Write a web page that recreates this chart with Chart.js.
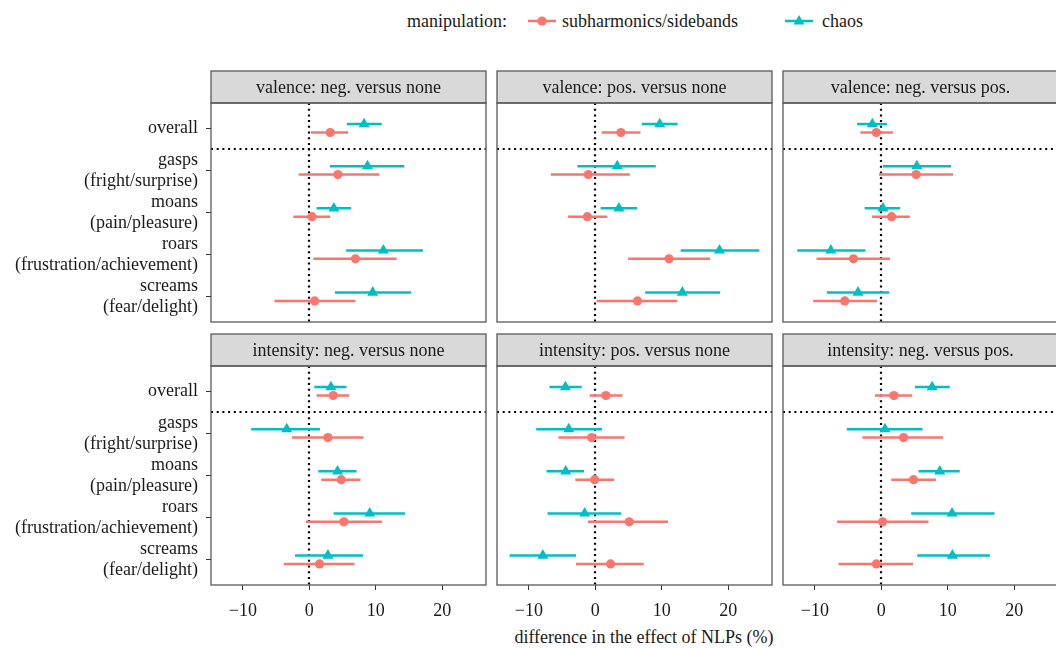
<!DOCTYPE html>
<html>
<head>
<meta charset="utf-8">
<script src="https://cdn.jsdelivr.net/npm/chart.js@4.4.0/dist/chart.umd.min.js"></script>
<style>
  body { margin: 0; width: 1056px; height: 648px; overflow: hidden; background: #fff; position: relative; font-family: "Liberation Serif", serif; color: #1a1a1a; }
  canvas { position: absolute; left: 0; top: 0; }
  .legend { position: absolute; top: 10px; left: 407px; height: 22px; line-height: 22px; font-size: 18px; white-space: nowrap; }
  .legend span, .legend svg { position: absolute; top: 0; }
  .xtitle { position: absolute; left: 444px; width: 400px; top: 627px; text-align: center; font-size: 18px; line-height: 20px; }
</style>
</head>
<body>
<div class="legend">
  <span style="left:0">manipulation:</span>
  <svg style="left:120px" width="30" height="22"><line x1="1" y1="11" x2="29" y2="11" stroke="#F8766D" stroke-width="2.5"/><circle cx="15" cy="11" r="4.6" fill="#F8766D"/></svg>
  <span style="left:155px">subharmonics/sidebands</span>
  <svg style="left:377px" width="30" height="22"><line x1="1" y1="11" x2="29" y2="11" stroke="#00BFC4" stroke-width="2.5"/><polygon points="15,5 20.5,14.5 9.5,14.5" fill="#00BFC4"/></svg>
  <span style="left:415px">chaos</span>
</div>
<div class="xtitle">difference in the effect of NLPs (%)</div>

<script>
var categories = ["overall", "gasps", "moans", "roars", "screams"];
var subLabels = ["", "(fright/surprise)", "(pain/pleasure)", "(frustration/achievement)", "(fear/delight)"];
var panelTitles = ["valence: neg. versus none", "valence: pos. versus none", "valence: neg. versus pos.",
                   "intensity: neg. versus none", "intensity: pos. versus none", "intensity: neg. versus pos."];
var xTicks = [-10, 0, 10, 20];

// subharmonics/sidebands, one row per panel, values in category order
var subEst = [
  [3.15, 4.3, 0.4, 6.95, 0.8],
  [3.85, -1.05, -1.2, 11.1, 6.35],
  [-0.75, 5.25, 1.55, -4.2, -5.5],
  [3.6, 2.8, 4.8, 5.2, 1.55],
  [1.6, -0.55, -0.1, 5.1, 2.3],
  [1.9, 3.35, 4.85, 0.2, -0.75]
];
var subLo = [
  [0.25, -1.6, -2.4, 0.6, -5.25],
  [0.95, -6.7, -4.1, 4.95, 0.2],
  [-3.15, -0.35, -1.4, -9.75, -10.25],
  [1.1, -2.6, 1.8, -0.5, -3.85],
  [-0.85, -5.55, -3.0, -1.1, -2.9],
  [-0.95, -2.85, 1.5, -6.65, -6.45]
];
var subHi = [
  [5.85, 10.55, 3.15, 13.15, 6.95],
  [6.8, 5.2, 1.8, 17.3, 12.35],
  [1.75, 10.8, 4.3, 1.3, -0.65],
  [6.0, 8.15, 7.7, 10.95, 6.8],
  [4.1, 4.4, 2.85, 10.95, 7.3],
  [4.65, 9.3, 8.25, 7.1, 4.8]
];

// chaos
var chaosEst = [
  [8.25, 8.75, 3.7, 11.15, 9.55],
  [9.7, 3.3, 3.55, 18.7, 13.1],
  [-1.35, 5.35, 0.25, -7.6, -3.5],
  [3.25, -3.4, 4.25, 9.1, 2.8],
  [-4.5, -4.0, -4.45, -1.6, -7.9],
  [7.65, 0.55, 8.8, 10.65, 10.7]
];
var chaosLo = [
  [5.65, 3.1, 1.1, 5.55, 3.85],
  [7.0, -2.7, 0.8, 12.85, 7.5],
  [-3.65, 0.25, -2.5, -12.65, -8.2],
  [0.75, -8.75, 1.35, 3.65, -2.15],
  [-6.9, -8.9, -7.35, -7.2, -12.9],
  [5.05, -5.2, 5.6, 4.5, 5.4]
];
var chaosHi = [
  [10.9, 14.3, 6.3, 17.1, 15.35],
  [12.4, 9.1, 6.3, 24.7, 18.8],
  [0.85, 10.5, 2.85, -2.4, 1.2],
  [5.6, 1.6, 7.1, 14.4, 8.1],
  [-2.05, 1.0, -1.7, 3.9, -2.9],
  [10.3, 6.2, 11.8, 17.05, 16.35]
];

var RED = "#F8766D", TEAL = "#00BFC4";
var W = 1070, H = 648;
var colLeft = [211, 497, 783];
var rowTop = [103, 366];
var panelW = 275, panelH = 219, stripH = 32;
var dodge = 0.1;

var font = { family: "'Liberation Serif', serif", size: 18 };

// strip, border, reference lines, error bars
var panelPlugin = {
  id: "panel",
  beforeDatasetsDraw: function (chart) {
    var ctx = chart.ctx, a = chart.chartArea;
    var xs = chart.scales.x, ys = chart.scales.y;
    ctx.save();
    ctx.beginPath();
    ctx.rect(a.left, a.top, a.right - a.left, a.bottom - a.top);
    ctx.clip();
    // dotted reference lines
    ctx.strokeStyle = "#000";
    ctx.lineWidth = 2.2;
    ctx.setLineDash([2, 3.7]);
    var x0 = Math.round(xs.getPixelForValue(0));
    ctx.beginPath(); ctx.moveTo(x0, a.top); ctx.lineTo(x0, a.bottom); ctx.stroke();
    var y0 = Math.round(ys.getPixelForValue(1.5));
    ctx.beginPath(); ctx.moveTo(a.left, y0); ctx.lineTo(a.right, y0); ctx.stroke();
    ctx.setLineDash([]);
    // error bars
    chart.data.datasets.forEach(function (ds) {
      ctx.strokeStyle = ds.backgroundColor;
      ctx.lineWidth = 2.5;
      ds.data.forEach(function (p, k) {
        var y = ys.getPixelForValue(p.y);
        ctx.beginPath();
        ctx.moveTo(xs.getPixelForValue(ds.lo[k]), y);
        ctx.lineTo(xs.getPixelForValue(ds.hi[k]), y);
        ctx.stroke();
      });
    });
    ctx.restore();
  },
  afterDraw: function (chart) {
    var ctx = chart.ctx, a = chart.chartArea;
    ctx.save();
    ctx.fillStyle = "#D9D9D9";
    ctx.fillRect(a.left, a.top - stripH, a.right - a.left, stripH);
    ctx.strokeStyle = "#595959";
    ctx.lineWidth = 1.3;
    ctx.strokeRect(a.left, a.top - stripH, a.right - a.left, stripH);
    ctx.strokeRect(a.left, a.top, a.right - a.left, a.bottom - a.top);
    ctx.fillStyle = "#1a1a1a";
    ctx.font = "18px 'Liberation Serif', serif";
    ctx.textAlign = "center";
    ctx.textBaseline = "middle";
    ctx.fillText(chart.options.plugins.panel.title, (a.left + a.right) / 2, a.top - stripH / 2 + 1);
    ctx.restore();
  }
};

function makePanel(i) {
  var row = Math.floor(i / 3), col = i % 3;
  var left = colLeft[col], top = rowTop[row];
  var canvas = document.createElement("canvas");
  canvas.width = W;
  canvas.height = H;
  document.body.appendChild(canvas);

  var showY = col === 0, showX = row === 1;

  new Chart(canvas, {
    type: "scatter",
    data: {
      datasets: [{
        label: "subharmonics/sidebands",
        data: subEst[i].map(function (v, k) { return { x: v, y: k + 1 + dodge }; }),
        lo: subLo[i], hi: subHi[i],
        backgroundColor: RED, borderWidth: 0,
        pointStyle: "circle", pointRadius: 4.6
      }, {
        label: "chaos",
        data: chaosEst[i].map(function (v, k) { return { x: v, y: k + 1 - dodge }; }),
        lo: chaosLo[i], hi: chaosHi[i],
        backgroundColor: TEAL, borderWidth: 0,
        pointStyle: "triangle", pointRadius: 6.4
      }]
    },
    options: {
      responsive: false,
      animation: false,
      events: [],
      layout: {
        padding: {
          left: showY ? 0 : left,
          top: top,
          right: W - left - panelW,
          bottom: showX ? 0 : H - top - panelH
        }
      },
      plugins: {
        legend: { display: false },
        tooltip: { enabled: false },
        panel: { title: panelTitles[i] }
      },
      scales: {
        x: {
          type: "linear",
          display: showX,
          min: -14.8,
          max: 26.6,
          afterBuildTicks: function (scale) {
            scale.ticks = xTicks.map(function (v) { return { value: v }; });
          },
          afterFit: function (scale) { if (showX) scale.height = H - top - panelH; },
          grid: { drawOnChartArea: false, drawTicks: true, tickLength: 5, color: "#333", lineWidth: 1 },
          border: { display: false },
          ticks: {
            font: font,
            color: "#1a1a1a",
            padding: 10,
            maxRotation: 0,
            callback: function (v) { return v < 0 ? "\u2212" + Math.abs(v) : String(v); }
          }
        },
        y: {
          type: "linear",
          display: showY,
          reverse: true,
          min: 0.4,
          max: 5.6,
          afterBuildTicks: function (scale) {
            scale.ticks = categories.map(function (c, k) { return { value: k + 1 }; });
          },
          afterFit: function (scale) { if (showY) scale.width = left; },
          grid: { drawOnChartArea: false, drawTicks: true, tickLength: 5, color: "#333", lineWidth: 1 },
          border: { display: false },
          ticks: {
            font: { family: font.family, size: 18, lineHeight: 1.17 },
            color: "#1a1a1a",
            padding: 8,
            callback: function (v) {
              var k = Math.round(v) - 1;
              return subLabels[k] ? [categories[k], subLabels[k]] : categories[k];
            }
          }
        }
      }
    },
    plugins: [panelPlugin]
  });
}

for (var i = 0; i < 6; i++) makePanel(i);
</script>
</body>
</html>
